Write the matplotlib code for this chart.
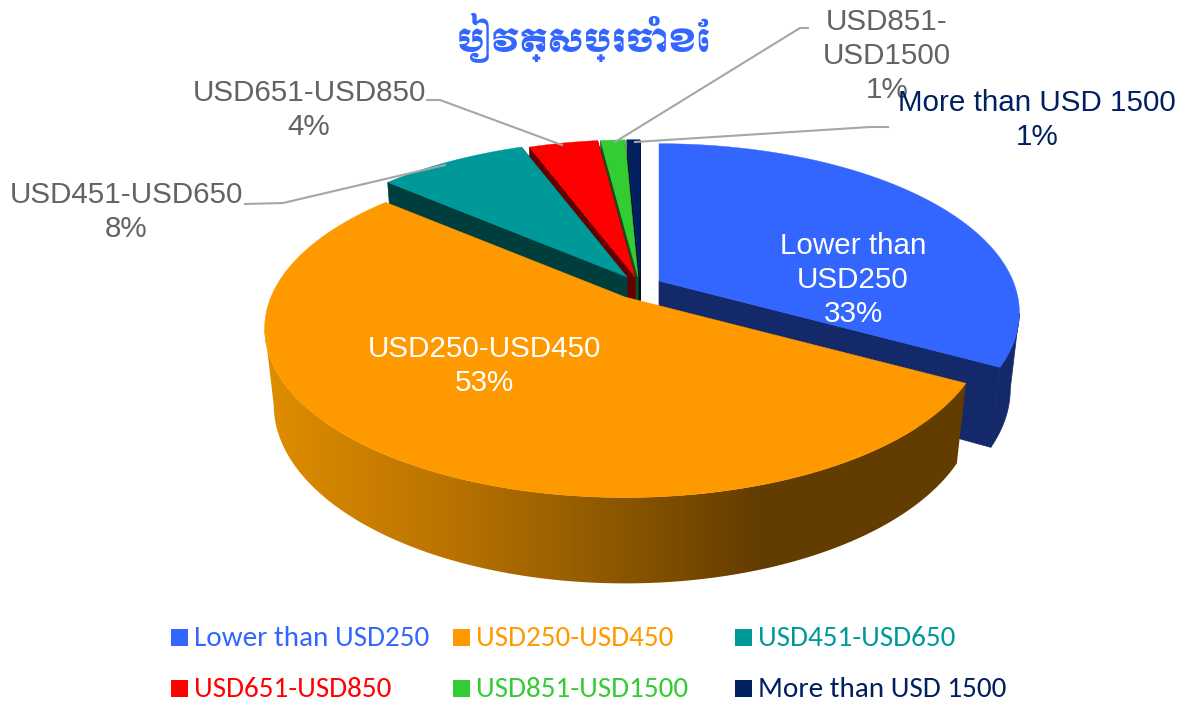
import numpy as np
import matplotlib
matplotlib.use("Agg")
import matplotlib.pyplot as plt
from matplotlib.colors import LinearSegmentedColormap
from matplotlib.patches import Polygon, Rectangle

# data
categories = ["Lower than USD250", "USD250-USD450", "USD451-USD650",
              "USD651-USD850", "USD851-USD1500", "More than USD 1500"]
shares = [33, 53.3, 8, 3.7, 1.3, 0.7]  # labels only show the rounded value
title = "បៀវត្សប្រចាំខែ"

# style
top_colors = ["#3366ff", "#ff9900", "#009999", "#ff0000", "#33cc33", "#002060"]
wall_colors = ["#14296a", "#a86500", "#003d3d", "#660000", "#145214", "#001030"]
centers = [(659, 281), (625, 297), (627, 277), (635, 277), (638, 277), (640, 277)]
label_pos = [(853, 280), (484, 366), (126, 212), (309, 110), (887, 56), (1037, 120)]
label_col = ["white", "white", "#636363", "#636363", "#636363", "#002060"]
label_text = ["Lower than\nUSD250", "USD250-USD450", "USD451-USD650",
              "USD651-USD850", "USD851-\nUSD1500", "More than USD 1500"]
leaders = [None, None,
           [(245, 204), (283, 203), (445, 165)],
           [(427, 100), (440, 100), (562, 145)],
           [(808, 28), (800, 28), (615, 142)],
           [(888, 127), (870, 127), (635, 142)]]
legend_x = [171, 453, 735]
legend_y = [637, 688]

# perspective of the pie
R = 354
P = 0.187
K = 163
DROP = 77
U = 0.025

plt.rcParams['font.family'] = ['Liberation Sans', 'DejaVu Sans']

fig = plt.figure(figsize=(11.88, 7.03), dpi=100)
ax = fig.add_axes([0, 0, 1, 1])
ax.set_xlim(0, 1188)
ax.set_ylim(703, 0)
ax.axis("off")


def project(theta, c, low=False, r=1.0):
    # theta runs clockwise from the back of the pie
    X = r * np.sin(theta)
    Y = -r * np.cos(theta)
    w = 1 - P * Y
    if low:
        w = w + U
        return np.column_stack([c[0] + R * X / w, c[1] + (K * Y + DROP) / w])
    return np.column_stack([c[0] + R * X / w, c[1] + K * Y / w])


edges = np.cumsum([0] + shares) / np.sum(shares) * 2 * np.pi
arcs = [np.linspace(edges[i], edges[i + 1], 300) for i in range(len(shares))]
zero = np.array([0.0])

# radial walls of the back slices, the tops hide most of them
for i in [0, 5, 4, 3, 2]:
    c = centers[i]
    top_arc = project(arcs[i], c)
    low_arc = project(arcs[i], c, low=True)
    apex = project(zero, c, r=0)
    apex_low = project(zero, c, low=True, r=0)
    col = wall_colors[i]
    ax.add_patch(Polygon(np.vstack([apex, top_arc[:1], low_arc[:1], apex_low]), fc=col, ec=col, lw=0.5, zorder=2))
    ax.add_patch(Polygon(np.vstack([apex, top_arc[-1:], low_arc[-1:], apex_low]), fc=col, ec=col, lw=0.5, zorder=2))

# outer wall of the blue slice, from its rightmost point to its end
top_arc = project(arcs[0], centers[0])
low_arc = project(arcs[0], centers[0], low=True)
a = np.argmax(top_arc[:, 0])
b = np.argmax(low_arc[:, 0])
ax.add_patch(Polygon(np.vstack([top_arc[a:], low_arc[b:][::-1]]), fc=wall_colors[0], ec=wall_colors[0],
                     lw=0.5, zorder=2))

for i in [0, 5, 4, 3, 2]:
    c = centers[i]
    apex = project(zero, c, r=0)
    ax.add_patch(Polygon(np.vstack([apex, project(arcs[i], c)]), fc=top_colors[i], ec=top_colors[i], lw=0.3, zorder=3))

# orange wall with its shading, from its start to its leftmost point
c = centers[1]
top_arc = project(arcs[1], c)
low_arc = project(arcs[1], c, low=True)
a = np.argmin(top_arc[:, 0])
b = np.argmin(low_arc[:, 0])
wall = Polygon(np.vstack([top_arc[:a + 1], low_arc[:b + 1][::-1]]), fc="none", ec="none", zorder=4)
ax.add_patch(wall)
shade = LinearSegmentedColormap.from_list(
    "shade", [(0, "#e08e00"), (0.263, "#b97300"), (0.476, "#915a00"), (0.703, "#633c00"), (1, "#633c00")])
img = ax.imshow(np.linspace(0, 1, 512).reshape(1, -1), cmap=shade, extent=(264, 970, 600, 300),
                aspect="auto", zorder=4)
img.set_clip_path(wall)
ax.set_xlim(0, 1188)
ax.set_ylim(703, 0)
ax.add_patch(Polygon(np.vstack([project(zero, c, r=0), top_arc]),
                     fc=top_colors[1], ec=top_colors[1], lw=0.3, zorder=5))

# leader lines and labels
for i, name in enumerate(label_text):
    if leaders[i] is not None:
        pts = np.array(leaders[i])
        ax.plot(pts[:, 0], pts[:, 1], color="#a6a6a6", lw=1.5, zorder=6)
    ax.text(label_pos[i][0], label_pos[i][1], name + "\n" + "%d%%" % max(round(shares[i]), 1),
            color=label_col[i], fontsize=21.3, ha="center", va="center", linespacing=1.27, zorder=7)

# legend
for i, name in enumerate(categories):
    x = legend_x[i % 3]
    y = legend_y[i // 3]
    ax.add_patch(Rectangle((x, y - 8.5), 17, 17, fc=top_colors[i], ec="none", zorder=6))
    ax.text(x + 23, y + 1.5, name, color=top_colors[i], fontsize=21, family=['Carlito', 'Lato', 'DejaVu Sans'],
            ha="left", va="center", zorder=7)

ax.text(584, 37, title, color=top_colors[0], fontsize=23,
        family=['Moul', 'Noto Sans Khmer', 'DejaVu Sans'], ha="center", va="center", zorder=7)

fig.savefig("out.png", dpi=100)
